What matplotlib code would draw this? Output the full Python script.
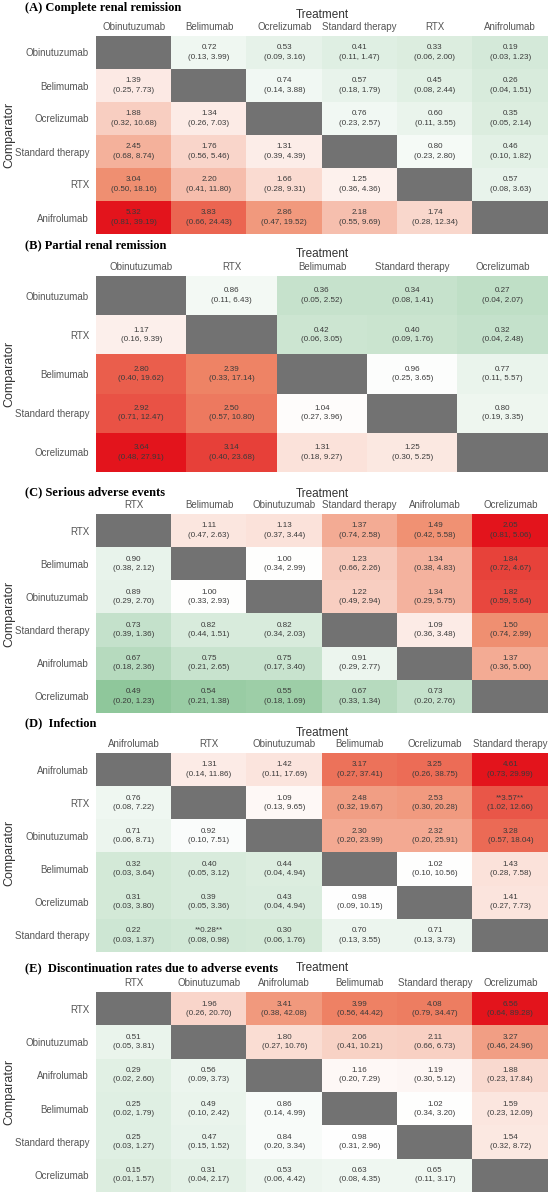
import numpy as np
import matplotlib
matplotlib.use("Agg")
import matplotlib.pyplot as plt
from matplotlib.colors import LinearSegmentedColormap, Normalize

plt.rcParams["font.family"] = ["Liberation Sans", "DejaVu Sans"]

# ── data (rows = comparator, cols = treatment; same drug order) ─────────────
A_title = "(A) Complete renal remission"
A_drugs = ["Obinutuzumab", "Belimumab", "Ocrelizumab", "Standard therapy", "RTX", "Anifrolumab"]
A_or = [[None, 0.72, 0.53, 0.41, 0.33, 0.19],
        [1.39, None, 0.74, 0.57, 0.45, 0.26],
        [1.88, 1.34, None, 0.76, 0.60, 0.35],
        [2.45, 1.76, 1.31, None, 0.80, 0.46],
        [3.04, 2.20, 1.66, 1.25, None, 0.57],
        [5.32, 3.83, 2.86, 2.18, 1.74, None]]
A_lo = [[None, 0.13, 0.09, 0.11, 0.06, 0.03],
        [0.25, None, 0.14, 0.18, 0.08, 0.04],
        [0.32, 0.26, None, 0.23, 0.11, 0.05],
        [0.68, 0.56, 0.39, None, 0.23, 0.10],
        [0.50, 0.41, 0.28, 0.36, None, 0.08],
        [0.81, 0.66, 0.47, 0.55, 0.28, None]]
A_hi = [[None, 3.99, 3.16, 1.47, 2.00, 1.23],
        [7.73, None, 3.88, 1.79, 2.44, 1.51],
        [10.68, 7.03, None, 2.57, 3.55, 2.14],
        [8.74, 5.46, 4.39, None, 2.80, 1.82],
        [18.16, 11.80, 9.31, 4.36, None, 3.63],
        [39.19, 24.43, 19.52, 9.69, 12.34, None]]

B_title = "(B) Partial renal remission"
B_drugs = ["Obinutuzumab", "RTX", "Belimumab", "Standard therapy", "Ocrelizumab"]
B_or = [[None, 0.86, 0.36, 0.34, 0.27],
        [1.17, None, 0.42, 0.40, 0.32],
        [2.80, 2.39, None, 0.96, 0.77],
        [2.92, 2.50, 1.04, None, 0.80],
        [3.64, 3.14, 1.31, 1.25, None]]
B_lo = [[None, 0.11, 0.05, 0.08, 0.04],
        [0.16, None, 0.06, 0.09, 0.04],
        [0.40, 0.33, None, 0.25, 0.11],
        [0.71, 0.57, 0.27, None, 0.19],
        [0.48, 0.40, 0.18, 0.30, None]]
B_hi = [[None, 6.43, 2.52, 1.41, 2.07],
        [9.39, None, 3.05, 1.76, 2.48],
        [19.62, 17.14, None, 3.65, 5.57],
        [12.47, 10.80, 3.96, None, 3.35],
        [27.91, 23.68, 9.27, 5.25, None]]

C_title = "(C) Serious adverse events"
C_drugs = ["RTX", "Belimumab", "Obinutuzumab", "Standard therapy", "Anifrolumab", "Ocrelizumab"]
C_or = [[None, 1.11, 1.13, 1.37, 1.49, 2.05],
        [0.90, None, 1.00, 1.23, 1.34, 1.84],
        [0.89, 1.00, None, 1.22, 1.34, 1.82],
        [0.73, 0.82, 0.82, None, 1.09, 1.50],
        [0.67, 0.75, 0.75, 0.91, None, 1.37],
        [0.49, 0.54, 0.55, 0.67, 0.73, None]]
C_lo = [[None, 0.47, 0.37, 0.74, 0.42, 0.81],
        [0.38, None, 0.34, 0.66, 0.38, 0.72],
        [0.29, 0.33, None, 0.49, 0.29, 0.59],
        [0.39, 0.44, 0.34, None, 0.36, 0.74],
        [0.18, 0.21, 0.17, 0.29, None, 0.36],
        [0.20, 0.21, 0.18, 0.33, 0.20, None]]
C_hi = [[None, 2.63, 3.44, 2.58, 5.58, 5.06],
        [2.12, None, 2.99, 2.26, 4.83, 4.67],
        [2.70, 2.93, None, 2.94, 5.75, 5.64],
        [1.36, 1.51, 2.03, None, 3.48, 2.99],
        [2.36, 2.65, 3.40, 2.77, None, 5.00],
        [1.23, 1.38, 1.69, 1.34, 2.76, None]]

D_title = "(D)  Infection"
D_drugs = ["Anifrolumab", "RTX", "Obinutuzumab", "Belimumab", "Ocrelizumab", "Standard therapy"]
D_or = [[None, 1.31, 1.42, 3.17, 3.25, 4.61],
        [0.76, None, 1.09, 2.48, 2.53, 3.57],
        [0.71, 0.92, None, 2.30, 2.32, 3.28],
        [0.32, 0.40, 0.44, None, 1.02, 1.43],
        [0.31, 0.39, 0.43, 0.98, None, 1.41],
        [0.22, 0.28, 0.30, 0.70, 0.71, None]]
D_lo = [[None, 0.14, 0.11, 0.27, 0.26, 0.73],
        [0.08, None, 0.13, 0.32, 0.30, 1.02],
        [0.06, 0.10, None, 0.20, 0.20, 0.57],
        [0.03, 0.05, 0.04, None, 0.10, 0.28],
        [0.03, 0.05, 0.04, 0.09, None, 0.27],
        [0.03, 0.08, 0.06, 0.13, 0.13, None]]
D_hi = [[None, 11.86, 17.69, 37.41, 38.75, 29.99],
        [7.22, None, 9.65, 19.67, 20.28, 12.66],
        [8.71, 7.51, None, 23.99, 25.91, 18.04],
        [3.64, 3.12, 4.94, None, 10.56, 7.58],
        [3.80, 3.36, 4.94, 10.15, None, 7.73],
        [1.37, 0.98, 1.76, 3.55, 3.73, None]]
D_sig = [(1, 5), (5, 1)]

E_title = "(E)  Discontinuation rates due to adverse events"
E_drugs = ["RTX", "Obinutuzumab", "Anifrolumab", "Belimumab", "Standard therapy", "Ocrelizumab"]
E_or = [[None, 1.96, 3.41, 3.99, 4.08, 6.56],
        [0.51, None, 1.80, 2.06, 2.11, 3.27],
        [0.29, 0.56, None, 1.16, 1.19, 1.88],
        [0.25, 0.49, 0.86, None, 1.02, 1.59],
        [0.25, 0.47, 0.84, 0.98, None, 1.54],
        [0.15, 0.31, 0.53, 0.63, 0.65, None]]
E_lo = [[None, 0.26, 0.38, 0.56, 0.79, 0.64],
        [0.05, None, 0.27, 0.41, 0.66, 0.46],
        [0.02, 0.09, None, 0.20, 0.30, 0.23],
        [0.02, 0.10, 0.14, None, 0.34, 0.23],
        [0.03, 0.15, 0.20, 0.31, None, 0.32],
        [0.01, 0.04, 0.06, 0.08, 0.11, None]]
E_hi = [[None, 20.70, 42.08, 44.42, 34.47, 89.28],
        [3.81, None, 10.76, 10.21, 6.73, 24.96],
        [2.60, 3.73, None, 7.29, 5.12, 17.84],
        [1.79, 2.42, 4.99, None, 3.20, 12.09],
        [1.27, 1.52, 3.34, 2.96, None, 8.72],
        [1.57, 2.17, 4.42, 4.35, 3.17, None]]

# ── layout (pixels, top-left origin) ────────────────────────────────────────
W, H = 552, 1194
GRID_X = (96, 548)
TREAT_X = sum(GRID_X) / 2
# (title_y, treatment_y, grid_top, grid_bottom)
PANELS = [
    (A_title, A_drugs, A_or, A_lo, A_hi, [], (8, 15, 36, 234)),
    (B_title, B_drugs, B_or, B_lo, B_hi, [], (245, 254, 276, 472)),
    (C_title, C_drugs, C_or, C_lo, C_hi, [], (492, 494, 514, 713)),
    (D_title, D_drugs, D_or, D_lo, D_hi, D_sig, (723, 733, 753, 952)),
    (E_title, E_drugs, E_or, E_lo, E_hi, [], (968, 968, 992, 1192)),
]

cmap = LinearSegmentedColormap.from_list(
    "gwr", [(0.0, "#1b8d33"), (0.5, "#ffffff"), (0.75, "#ef8a6a"), (1.0, "#e3141c")])
cmap.set_bad("#727272")

fig = plt.figure(figsize=(W / 100, H / 100), dpi=100)
fig.patch.set_facecolor("white")

for title, drugs, ors, los, his, sig, (ty, try_, gt, gb) in PANELS:
    n = len(drugs)
    vals = np.array([[np.nan if v is None else v for v in row] for row in ors], dtype=float)
    vmax = np.nanmax(vals)
    norm = Normalize(vmin=2 - vmax, vmax=vmax)   # white centred on OR = 1

    ax = fig.add_axes([GRID_X[0] / W, 1 - gb / H, (GRID_X[1] - GRID_X[0]) / W, (gb - gt) / H])
    ax.imshow(np.ma.masked_invalid(vals), cmap=cmap, norm=norm, aspect="auto",
              interpolation="nearest")
    for i in range(n):
        for j in range(n):
            if ors[i][j] is None:
                continue
            v = f"{ors[i][j]:.2f}"
            if (i, j) in sig:
                v = f"**{v}**"
            ax.text(j, i, f"{v}\n({los[i][j]:.2f}, {his[i][j]:.2f})", ha="center", va="center",
                    fontsize=5.8, color="#3a3a3a", linespacing=1.45)
    ax.set_xticks(range(n))
    ax.set_xticklabels(drugs, fontsize=7, color="#555555")
    ax.xaxis.tick_top()
    ax.set_yticks(range(n))
    ax.set_yticklabels(drugs, fontsize=7, color="#555555")
    ax.tick_params(axis="x", length=0, pad=3)
    ax.tick_params(axis="y", length=0, pad=5)
    for s in ax.spines.values():
        s.set_visible(False)

    fig.text(25 / W, 1 - ty / H, title, fontsize=9, fontweight="bold",
             family="Liberation Serif", va="center", ha="left")
    fig.text(TREAT_X / W, 1 - try_ / H, "Treatment", fontsize=8.5,
             color="#333333", ha="center", va="center")
    fig.text(9 / W, 1 - (gt + gb) / 2 / H, "Comparator", fontsize=9, color="#333333",
             rotation=90, ha="center", va="center")

fig.savefig("out.png", dpi=100)
